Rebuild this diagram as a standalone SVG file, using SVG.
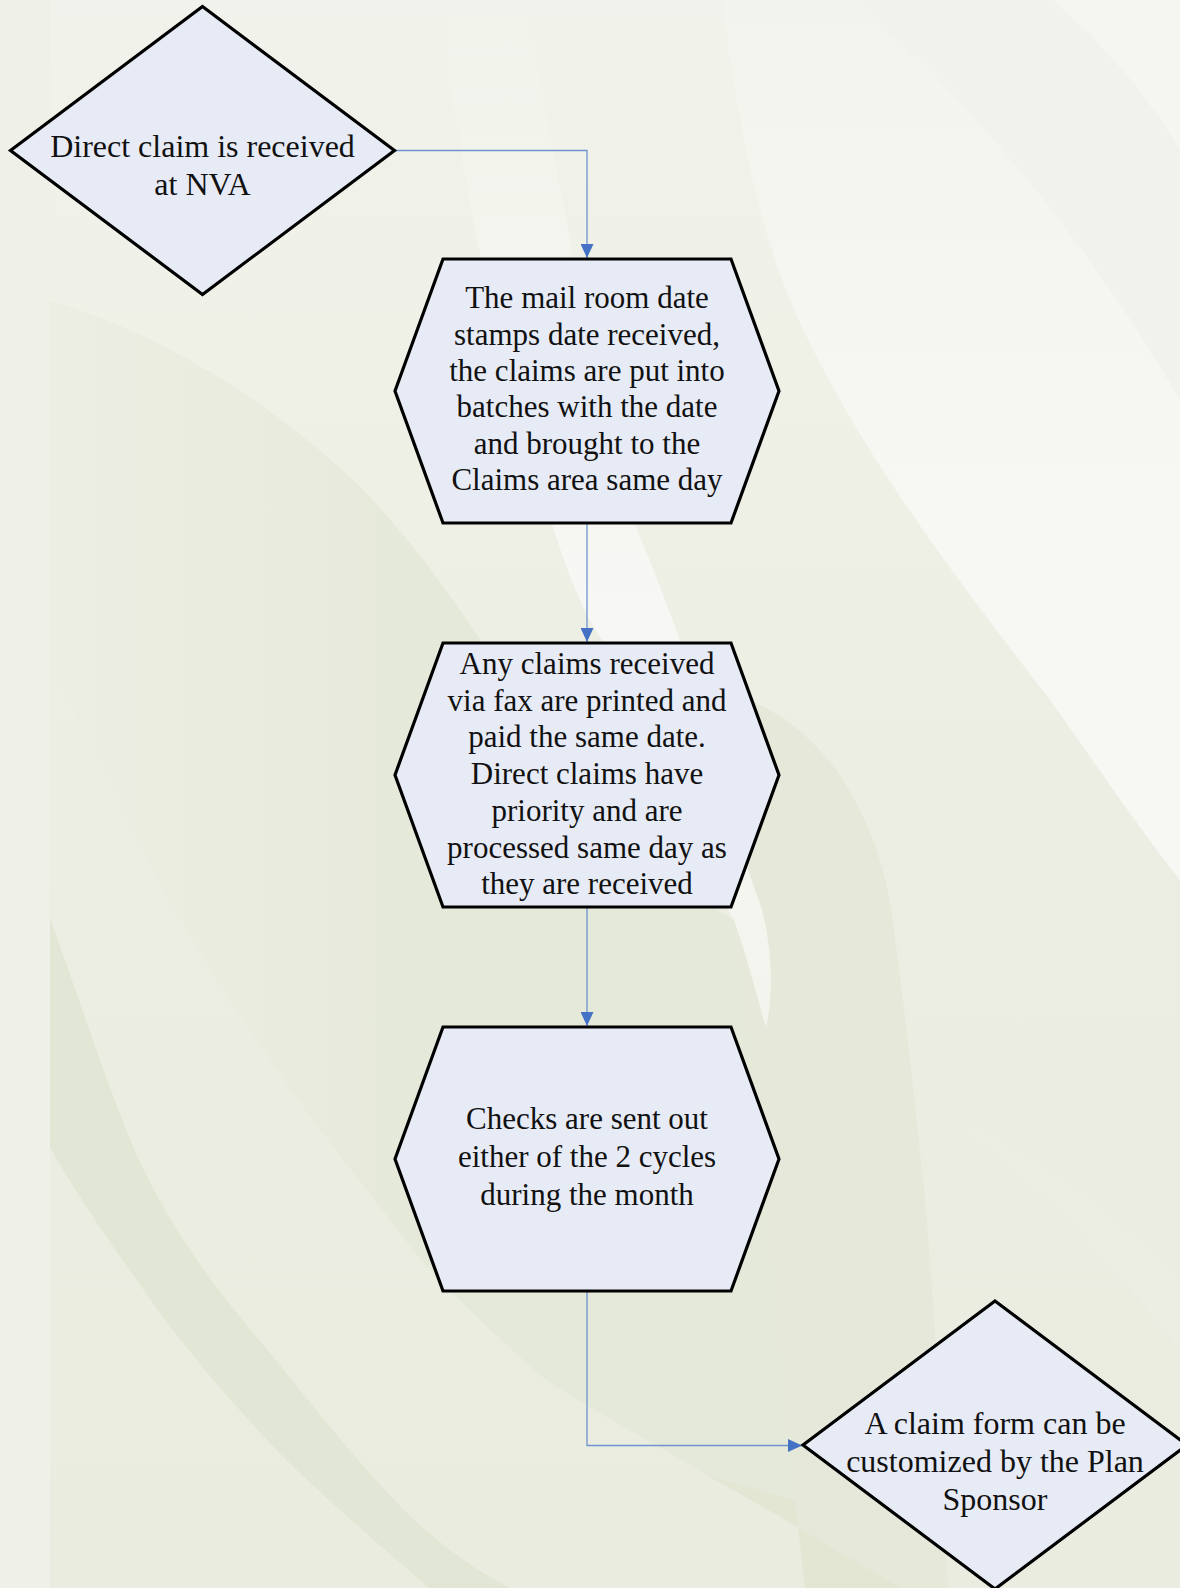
<svg xmlns="http://www.w3.org/2000/svg" width="1180" height="1588" viewBox="0 0 1180 1588">
<defs>
<linearGradient id="bg" x1="0" y1="0" x2="0" y2="1">
<stop offset="0" stop-color="#f1f2eb"/>
<stop offset="0.25" stop-color="#eff1e7"/>
<stop offset="0.5" stop-color="#eceee3"/>
<stop offset="1" stop-color="#e9ecdf"/>
</linearGradient>
<linearGradient id="d1" gradientUnits="userSpaceOnUse" x1="50" y1="0" x2="450" y2="0">
<stop offset="0" stop-color="#eceee3"/>
<stop offset="1" stop-color="#e5e9d9"/>
</linearGradient>
<linearGradient id="wh" gradientUnits="userSpaceOnUse" x1="0" y1="0" x2="0" y2="900">
<stop offset="0" stop-color="#f2f3ec"/>
<stop offset="0.55" stop-color="#f7f8f4"/>
<stop offset="1" stop-color="#f7f7f3"/>
</linearGradient>
<linearGradient id="sw" gradientUnits="userSpaceOnUse" x1="0" y1="0" x2="0" y2="1030">
<stop offset="0" stop-color="#f6f7f2" stop-opacity="0"/>
<stop offset="0.35" stop-color="#f6f7f2" stop-opacity="0.8"/>
<stop offset="0.6" stop-color="#f7f8f5" stop-opacity="1"/>
<stop offset="1" stop-color="#f4f5ef" stop-opacity="0.9"/>
</linearGradient>
<marker id="arr" markerUnits="userSpaceOnUse" markerWidth="14" markerHeight="13" refX="14" refY="6.5" orient="auto">
<path d="M0,0 L14,6.5 L0,13 Z" fill="#4472c4"/>
</marker>
<style>
.node{fill:#e7ebf5;stroke:#000;stroke-width:3.2;stroke-linejoin:miter}
.lbl{font-family:"Liberation Serif","Times New Roman",serif;font-size:31px;fill:#111;text-anchor:middle}
.dl{font-size:32px}
.edge{fill:none;stroke:#6f93cf;stroke-width:1.3;marker-end:url(#arr)}
</style>
</defs>
<g id="background">
<rect x="0" y="0" width="1180" height="1588" fill="url(#bg)"/>
<path d="M50,301 C120,320 230,370 339,467 C420,540 480,640 540,730 C620,850 700,900 734,920 C760,1100 790,1350 805,1588 L903,1588 C850,1560 780,1515 708,1476 C650,1440 590,1410 542,1377 C490,1330 440,1285 406,1241 C360,1180 310,1120 271,1061 C230,1000 190,940 158,880 C120,810 90,740 50,662 Z" fill="url(#d1)"/>
<path d="M49,916 C80,1000 105,1080 135,1151 C170,1230 220,1295 271,1354 C320,1415 360,1465 406,1512 C440,1545 475,1570 510,1588 L429,1588 C380,1545 320,1495 271,1444 C220,1390 170,1330 135,1277 C100,1230 75,1190 49,1146 Z" fill="#e2e6d4"/>
<path d="M750,700 C820,730 870,800 890,900 C905,1010 915,1100 925,1200 C935,1311 942,1450 948,1588 L805,1588 L785,1400 C768,1200 748,1010 734,920 Z" fill="#e6e9da"/>
<path d="M708,1476 C780,1515 850,1560 903,1588 L805,1588 L795,1500 Z" fill="#e2e6d3"/>
<path d="M722,0 C735,100 750,200 790,300 C850,440 950,570 1050,700 C1100,770 1140,830 1180,880 L1180,0 Z" fill="url(#wh)"/>
<path d="M850,0 C930,60 1070,210 1180,400 L1180,0 Z" fill="#f1f2eb"/>
<path d="M1053,0 C1110,50 1150,100 1180,150 L1180,0 Z" fill="#f5f6f1"/>
<path d="M950,1120 C1030,1170 1110,1260 1180,1349 L1180,1280 C1110,1210 1030,1150 950,1120 Z" fill="#eceee4"/>
<path d="M440,0 C455,150 500,380 553,527 C570,580 585,615 602,640 C650,760 700,860 734,920 C748,960 758,1000 766,1027 C774,990 772,950 762,910 C730,820 700,720 680,640 C665,600 650,560 636,527 C600,400 560,200 527,0 Z" fill="url(#sw)"/>
<rect x="0" y="0" width="50" height="1588" fill="#eff1e8"/>
</g>
<g id="connectors">
<path class="edge" d="M394.5,150.5 H587 V258"/>
<path class="edge" d="M587,523 V642"/>
<path class="edge" d="M587,907 V1026"/>
<path class="edge" d="M587,1291 V1445.5 H802"/>
</g>
<g id="node-received">
<polygon class="node" points="202.5,6.5 394.5,150.5 202.5,294.5 10.5,150.5"/>
<text class="lbl dl" x="202.5" y="157.3">Direct claim is received</text>
<text class="lbl dl" x="202.5" y="195">at NVA</text>
</g>
<g id="node-mailroom">
<polygon class="node" points="395,391 443,259 731,259 779,391 731,523 443,523"/>
<text class="lbl" x="587" y="308.3">The mail room date</text>
<text class="lbl" x="587" y="344.7">stamps date received,</text>
<text class="lbl" x="587" y="381">the claims are put into</text>
<text class="lbl" x="587" y="417.4">batches with the date</text>
<text class="lbl" x="587" y="453.7">and brought to the</text>
<text class="lbl" x="587" y="490">Claims area same day</text>
</g>
<g id="node-fax">
<polygon class="node" points="395,775 443,643 731,643 779,775 731,907 443,907"/>
<text class="lbl" x="587" y="674">Any claims received</text>
<text class="lbl" x="587" y="710.7">via fax are printed and</text>
<text class="lbl" x="587" y="747.4">paid the same date.</text>
<text class="lbl" x="587" y="784.1">Direct claims have</text>
<text class="lbl" x="587" y="820.8">priority and are</text>
<text class="lbl" x="587" y="857.5">processed same day as</text>
<text class="lbl" x="587" y="894.2">they are received</text>
</g>
<g id="node-checks">
<polygon class="node" points="395,1159 443,1027 731,1027 779,1159 731,1291 443,1291"/>
<text class="lbl" x="587" y="1129">Checks are sent out</text>
<text class="lbl" x="587" y="1167">either of the 2 cycles</text>
<text class="lbl" x="587" y="1205">during the month</text>
</g>
<g id="node-claimform">
<polygon class="node" points="995,1301 1187,1445 995,1589 803,1445"/>
<text class="lbl dl" x="995" y="1434">A claim form can be</text>
<text class="lbl dl" x="995" y="1472">customized by the Plan</text>
<text class="lbl dl" x="995" y="1510">Sponsor</text>
</g>
</svg>
